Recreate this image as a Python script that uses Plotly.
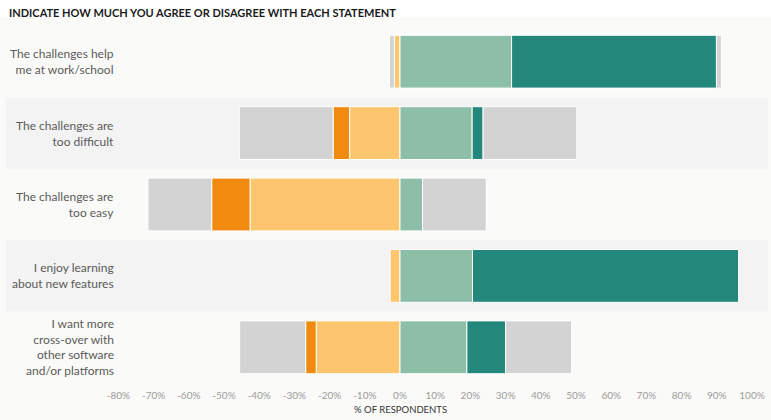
import plotly.graph_objects as go

categories = [
    "The challenges help<br>me at work/school",
    "The challenges are<br>too difficult",
    "The challenges are<br>too easy",
    "I enjoy learning<br>about new features",
    "I want more<br>cross-over with<br>other software<br>and/or platforms",
]
strongly_disagree = [0.0, 4.7, 10.9, 0.0, 3.0]
disagree = [1.6, 14.3, 42.6, 2.8, 23.8]
neutral = [2.8, 53.3, 36.2, 0.0, 37.5]
agree = [31.7, 20.5, 6.4, 20.6, 19.0]
strongly_agree = [58.2, 3.1, 0.0, 75.6, 11.0]
tick_values = [-80, -70, -60, -50, -40, -30, -20, -10, 0, 10, 20, 30, 40, 50, 60, 70, 80, 90, 100]
tick_labels = [f"{v}%" for v in tick_values]

C_SD = "#F08B10"
C_D = "#FDC66E"
C_N = "#D3D3D3"
C_A = "#8DBFA8"
C_SA = "#24877B"

idx = list(range(len(categories)))
half_n = [n / 2 for n in neutral]

fig = go.Figure()
line = dict(color="white", width=1)
w = 0.74

def add(vals, color, sign):
    xs = [sign * v if v else None for v in vals]
    fig.add_trace(go.Bar(y=idx, x=xs, orientation="h", marker=dict(color=color, line=line),
                         width=w, showlegend=False, hoverinfo="x"))

add(disagree, C_D, -1)
add(strongly_disagree, C_SD, -1)
add(half_n, C_N, -1)
add(agree, C_A, 1)
add(strongly_agree, C_SA, 1)
add(half_n, C_N, 1)

PLOT_TOP = 25.7
PLOT_BOT = 383.5
PH = PLOT_BOT - PLOT_TOP

def py(pixel):
    return (PLOT_BOT - pixel) / PH

shapes = []
for i in idx:
    if i % 2 == 1:
        shapes.append(dict(type="rect", xref="paper", yref="y", x0=0, x1=1,
                           y0=i - 0.5, y1=i + 0.5, fillcolor="#F3F3F3",
                           line=dict(width=0), layer="below"))
shapes.append(dict(type="rect", xref="paper", yref="paper", x0=-0.02, x1=1.02,
                   y0=py(17), y1=py(-2), fillcolor="white", line=dict(width=0), layer="below"))

annotations = []
for i, c in zip(idx, categories):
    annotations.append(dict(x=-80.7, y=i, xref="x", yref="y", text=c, showarrow=False,
                            xanchor="right", align="right",
                            font=dict(family="Lato", size=12, color="#5a5a5a")))
annotations.append(dict(x=0, y=py(410), xref="x", yref="paper", yanchor="middle",
                        text="% OF RESPONDENTS", showarrow=False,
                        font=dict(family="Lato", size=9.5, color="#333333")))
annotations.append(dict(x=1 / 762, y=py(12), xref="paper", yref="paper",
                        xanchor="left", yanchor="middle",
                        text="<b>INDICATE HOW MUCH YOU AGREE OR DISAGREE WITH EACH STATEMENT</b>",
                        showarrow=False, font=dict(family="Lato", size=11, color="#1a1a1a")))

xmin = (6 - 400) / 3.52
xmax = (768 - 400) / 3.52

fig.update_layout(
    width=771, height=420,
    margin=dict(l=6, r=3, t=26, b=37),
    barmode="relative",
    paper_bgcolor="#FAFAF8",
    plot_bgcolor="rgba(0,0,0,0)",
    shapes=shapes,
    annotations=annotations,
    xaxis=dict(range=[xmin, xmax], tickvals=tick_values, ticktext=tick_labels,
               showgrid=False, zeroline=False, showline=False,
               tickfont=dict(family="Lato", size=10, color="#9a9a9a"),
               ticks="outside", ticklen=3, tickcolor="rgba(0,0,0,0)"),
    yaxis=dict(range=[4.5, -0.5], showticklabels=False, showgrid=False, zeroline=False,
               showline=False),
)

fig.write_html("out.html", config={"displayModeBar": False},
               post_script="document.body.style.margin='0';")
